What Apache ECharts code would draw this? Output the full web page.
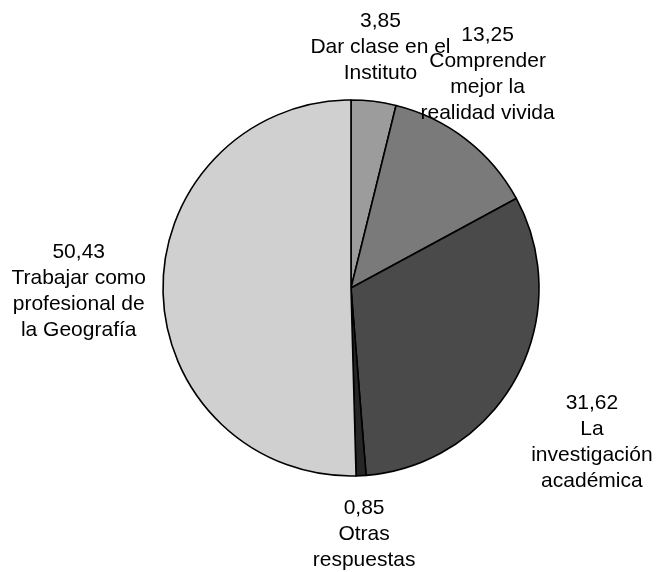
<!DOCTYPE html>
<html>
<head>
<meta charset="utf-8">
<script src="https://cdn.jsdelivr.net/npm/echarts@6/dist/echarts.min.js"></script>
<style>
  html, body { margin: 0; padding: 0; background: #fff; }
  #chart { width: 659px; height: 572px; }
</style>
</head>
<body>
<div id="chart"></div>
<script>
// datos del gráfico (porcentajes)
var categories = [
  "Dar clase en el\nInstituto",
  "Comprender\nmejor la\nrealidad vivida",
  "La\ninvestigación\nacadémica",
  "Otras\nrespuestas",
  "Trabajar como\nprofesional de\nla Geografía"
];
var values = [3.85, 13.25, 31.62, 0.85, 50.43];
var colors = ["#9c9c9c", "#7a7a7a", "#4a4a4a", "#262626", "#d0d0d0"];
// pequeños ajustes de posición de etiquetas [dx, dy]
var labelNudge = [[0, 2], [-29, 0], [0, 24], [0, 2], [0, 0]];

var cx = 351, cy = 288, r = 188, gap = 17;

// ángulo medio de cada sector (desde arriba, sentido horario)
var total = values.reduce(function (a, b) { return a + b; }, 0);
var midAngles = [];
var acc = 0;
values.forEach(function (v) {
  midAngles.push((acc + v / 2) / total * 2 * Math.PI);
  acc += v;
});

var myChart = echarts.init(document.getElementById("chart"), null, { renderer: "canvas" });
var option = {
  animation: false,
  series: [
    {
      type: "pie",
      center: [cx, cy],
      radius: r,
      startAngle: 90,
      clockwise: true,
      avoidLabelOverlap: false,
      silent: true,
      itemStyle: {
        borderColor: "#000",
        borderWidth: 1.6
      },
      label: {
        show: true,
        position: "outside",
        color: "#000",
        fontFamily: "Liberation Sans, Arial, sans-serif",
        fontSize: 21,
        lineHeight: 26,
        formatter: function (p) {
          return p.value.toFixed(2).replace(".", ",") + "\n" + p.name;
        }
      },
      labelLine: { show: false },
      labelLayout: function (params) {
        var i = params.dataIndex;
        var a = midAngles[i];
        var ux = Math.sin(a), uy = -Math.cos(a);
        var w = params.labelRect.width, h = params.labelRect.height;
        var t = Math.min(
          Math.abs(ux) > 1e-6 ? w / 2 / Math.abs(ux) : Infinity,
          Math.abs(uy) > 1e-6 ? h / 2 / Math.abs(uy) : Infinity
        );
        var d = r + gap + t;
        return {
          x: cx + ux * d + labelNudge[i][0],
          y: cy + uy * d + labelNudge[i][1],
          align: "center",
          verticalAlign: "middle"
        };
      },
      data: categories.map(function (name, i) {
        return { name: name, value: values[i], itemStyle: { color: colors[i] } };
      })
    }
  ]
};
option && myChart.setOption(option);
</script>
</body>
</html>
